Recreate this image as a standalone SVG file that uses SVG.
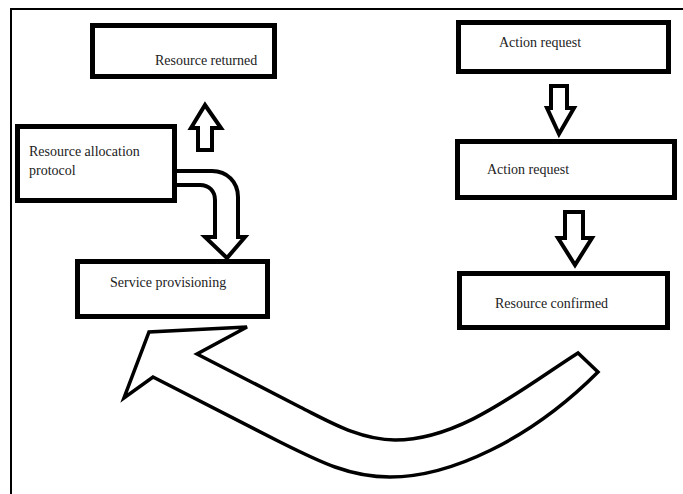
<svg xmlns="http://www.w3.org/2000/svg" width="683" height="494" viewBox="0 0 683 494">
<style>
.box{fill:#fff;stroke:#000;stroke-width:5}
.lbl{font-family:"Liberation Serif","Times New Roman",serif;font-size:14px;fill:#222}
.arr{fill:#fff;stroke:#000;stroke-width:4;stroke-linejoin:miter}
.big{fill:#fff;stroke:#000;stroke-width:3.5;stroke-linejoin:miter}
</style>
<rect width="683" height="494" fill="#fff"/>
<path d="M11,494 V9 H683" fill="none" stroke="#000" stroke-width="2"/>
<g id="resource-returned">
<rect class="box" x="92.5" y="25.5" width="182" height="51"/>
<text class="lbl" x="155" y="65">Resource returned</text>
</g>
<g id="action-request-1">
<rect class="box" x="458.5" y="22.5" width="210" height="49"/>
<text class="lbl" x="499" y="47">Action request</text>
</g>
<g id="action-request-2">
<rect class="box" x="457.5" y="141.5" width="217" height="56"/>
<text class="lbl" x="487" y="174">Action request</text>
</g>
<g id="resource-confirmed">
<rect class="box" x="459.5" y="273.5" width="208" height="54"/>
<text class="lbl" x="495" y="308">Resource confirmed</text>
</g>
<g id="resource-allocation">
<rect class="box" x="17.5" y="126.5" width="157" height="74"/>
<text class="lbl" x="29" y="156">Resource allocation</text>
<text class="lbl" x="29" y="175">protocol</text>
</g>
<g id="service-provisioning">
<rect class="box" x="77.5" y="261.5" width="190" height="55"/>
<text class="lbl" x="110" y="287">Service provisioning</text>
</g>
<g id="connectors">
<path class="arr" d="M198,150 V128 H191 L205,105 L221,128 H212 V150 Z"/>
<path class="arr" d="M551,86 H567 V108 H574 L559,134 L547,108 H551 Z"/>
<path class="arr" d="M565,212 H583 V238 H592 L575,265 L558,238 H565 Z"/>
<path class="arr" d="M177,171 H212 C227,171 238,182 238,197 V237 H245 L227,258 L205,237 H215 V200 C215,191 209,185 200,185 H177"/>
<path class="big" d="M598,372 L578,353 C520,390 460,440 395,440 C360,440 330,422 300,407 L197,354 L247,327 L149,332 L124,398 L153,377 L280,442 C320,462 350,477 390,477 C450,477 530,440 598,372 Z"/>
</g>
</svg>
